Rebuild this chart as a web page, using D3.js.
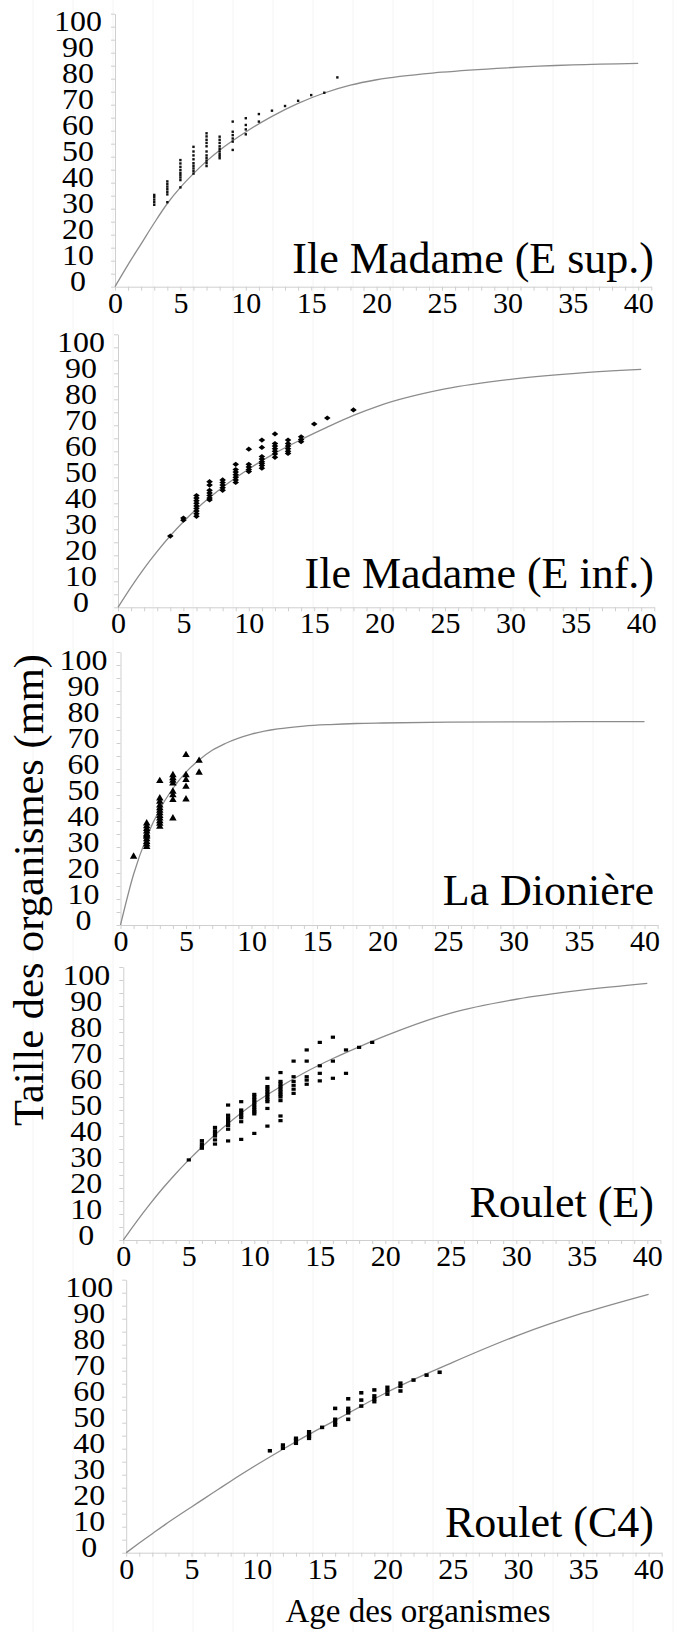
<!DOCTYPE html>
<html><head><meta charset="utf-8">
<script src="https://cdn.jsdelivr.net/npm/d3@7/dist/d3.min.js"></script>
<style>
html,body{margin:0;padding:0;background:#fff;}
svg{display:block;}
text{font-family:"Liberation Serif","Times New Roman",serif;fill:#000;}
</style></head><body>
<svg id="chart" width="678" height="1632"></svg>
<script>
// ---------- data ----------
const panelTitles = ["Ile Madame (E sup.)", "Ile Madame (E inf.)", "La Dionière", "Roulet (E)", "Roulet (C4)"];
const yAxisTitle = "Taille des organismes (mm)";
const xAxisTitle = "Age des organismes";
const yTickLabels = [0, 10, 20, 30, 40, 50, 60, 70, 80, 90, 100];
const xTickLabels = [0, 5, 10, 15, 20, 25, 30, 35, 40];

// fitted growth curves, read at these ages
const curveAges = [0, 1, 2, 3, 4, 5, 6, 7, 8, 10, 12, 14, 16, 18, 20, 25, 30, 35, 40];
const curveMadameSup = [0, 8.5, 16.5, 24.5, 32, 38.2, 43.5, 48.3, 52.5, 59.5, 65.5, 70.5, 74.5, 77.5, 79.6, 82.5, 84.2, 85.3, 85.9];
const curveMadameInf = [0, 7.8, 15, 21.5, 27.5, 32.9, 37.8, 42.2, 46.2, 53.2, 59.3, 64.5, 69.3, 73.8, 77.6, 84, 87.7, 90, 91.5];
const curveDioniere  = [0, 19.5, 33.8, 44.5, 52.5, 58.8, 63.5, 67.2, 69.8, 73.4, 75.4, 76.5, 77.1, 77.5, 77.7, 78, 78.1, 78.2, 78.2];
const curveRouletE   = [0, 7, 13.6, 19.8, 25.5, 30.8, 35.8, 40.5, 44.8, 52.6, 59, 64.8, 69.8, 74.3, 78.5, 87.3, 92.6, 96.1, 98.7];
const curveRouletC4  = [0, 3.7, 7.3, 10.9, 14.3, 17.6, 20.9, 24.2, 27.5, 33.8, 39.8, 45.5, 50.9, 56.4, 61.8, 73.2, 83.6, 92.2, 99.4];

// observations: ages and, for each age, the sizes measured
const madameSupAges = [3, 4, 5, 6, 7, 8, 9, 10, 11, 12, 13, 14, 15, 16, 17];
const madameSupSizes = [
  [31.5, 32.5, 33.5, 34.5, 35.3],
  [32.5, 35.5, 36.5, 37.5, 38.5, 39.5, 40.5],
  [38.2, 41, 42, 42.9, 43.8, 44.9, 46.1, 47.4, 48.7],
  [43.5, 44.5, 45.5, 46.5, 47.5, 49, 50.5, 52, 53.8],
  [46.4, 47.5, 48.5, 49.5, 50.5, 52, 54, 55.3, 56.5, 57.8, 59],
  [49.4, 50.2, 51, 52, 53, 54, 55.3, 56.5, 57.7],
  [52.6, 55.8, 57, 58.3, 59.6, 63.5],
  [58.6, 60.5, 62.2, 64.8],
  [63.5, 66.4],
  [67.7], [69.5], [71.5], [73.7], [74.6], [80.5]
];
const madameInfAges = [4, 5, 6, 7, 8, 9, 10, 11, 12, 13, 14, 15, 16, 18];
const madameInfSizes = [
  [27.4],
  [33.5, 34.3],
  [35, 36, 37, 38, 39, 40, 41, 42, 43],
  [41.3, 42, 43, 44, 45, 47, 48.3],
  [45, 46, 47, 48, 49],
  [48, 49, 50, 51, 52, 53, 55],
  [52.2, 53, 54, 55, 60.8],
  [53.5, 54.5, 55.3, 56, 57, 58, 61.5, 64.3],
  [57.7, 59, 60, 61, 62, 63, 66.7],
  [59.2, 60, 61, 62, 63, 64.3],
  [63.7, 64.5, 65.6],
  [70.5], [72.8], [75.9]
];
const dioniereAges = [1, 2, 3, 4, 5, 6];
const dioniereSizes = [
  [26.3],
  [30.1, 31, 32, 33, 34, 34.5, 35, 36, 37, 38, 39.1],
  [37.8, 39, 40, 41, 42, 43, 44, 45, 46, 47.5, 48.7, 55.4],
  [41, 48.1, 50, 51.3, 54.5, 55.5, 56.5, 57.7],
  [48.3, 53.2, 55.8, 57.7, 65.4],
  [58.6, 63.2]
];
const rouletEAges = [5, 6, 7, 8, 9, 10, 11, 12, 13, 14, 15, 16, 17, 18, 19];
const rouletESizes = [
  [30.8],
  [35.3, 36, 37, 38.2],
  [36.9, 38.5, 40, 41, 42, 43.3],
  [38.1, 42.6, 44, 45, 46, 47, 48, 51.9],
  [38.7, 45.5, 47, 48, 49, 50, 53.2],
  [41, 48.5, 49.3, 50, 51, 52, 53, 54, 55, 56],
  [43.8, 50.6, 53.2, 54, 55, 56, 57, 58, 59, 62.2],
  [45.9, 47.7, 53.6, 55, 56, 57, 58, 59, 60, 61, 64.4],
  [56.4, 58, 59.5, 61, 62.8, 68.8],
  [59.9, 61.5, 62.8, 68.8, 73.1],
  [61.2, 64.1, 67, 76],
  [62.2, 68.8, 78],
  [64.1, 73.1],
  [74.1],
  [76]
];
const rouletC4Ages = [11, 12, 13, 14, 15, 16, 17, 18, 19, 20, 21, 22, 23, 24];
const rouletC4Sizes = [
  [39.2],
  [40.2, 41.4],
  [42.1, 43.3, 44],
  [44, 44.8, 45.5, 46.5],
  [48.2],
  [49.1, 50.2, 51.3, 55.5],
  [51.3, 53.8, 54.6, 55.5, 59.2],
  [56.4, 58.7, 61.5],
  [58.1, 59.2, 60.3, 62.6],
  [61, 62.3, 63.6],
  [62.2, 64, 65.2],
  [66.4], [68.3], [69.4]
];

// ---------- layout ----------
const W = 678, H = 1632;
const axisColor = "#cfcfcf";
const panels = [
  {curve: curveMadameSup, ages: madameSupAges, sizes: madameSupSizes, marker: "dot",      x0: 115,   y0: 286.7,  unit: 13.08, titleY: 273},
  {curve: curveMadameInf, ages: madameInfAges, sizes: madameInfSizes, marker: "diamond",  x0: 118,   y0: 607.3,  unit: 13.08, titleY: 588},
  {curve: curveDioniere,  ages: dioniereAges,  sizes: dioniereSizes,  marker: "triangle", x0: 120.5, y0: 925,    unit: 13.1,  titleY: 905},
  {curve: curveRouletE,   ages: rouletEAges,   sizes: rouletESizes,   marker: "rect",     x0: 123.3, y0: 1240,   unit: 13.1,  titleY: 1217},
  {curve: curveRouletC4,  ages: rouletC4Ages,  sizes: rouletC4Sizes,  marker: "rect2",    x0: 126.2, y0: 1552.7, unit: 13.06, titleY: 1537}
];
const pxPerMm = 2.6;
const yLabelStretch = 1.1;

const svg = d3.select("#chart");
svg.append("rect").attr("width", W).attr("height", H).attr("fill", "#fff");

// faint background pattern of the scanned page
svg.append("g").selectAll("line").data(d3.range(33, W, 40)).join("line")
  .attr("x1", d => d).attr("x2", d => d).attr("y1", 0).attr("y2", H)
  .attr("stroke", "#f4f4f4").attr("stroke-width", 1);

panels.forEach((p, i) => {
  const x = d3.scaleLinear().domain([0, 41]).range([p.x0, p.x0 + 41 * p.unit]);
  const y = d3.scaleLinear().domain([0, 105]).range([p.y0, p.y0 - 105 * pxPerMm]);
  const g = svg.append("g");

  // y axis: line + minor ticks every 5
  const yMinor = g.append("g").attr("transform", `translate(${p.x0},0)`)
    .call(d3.axisLeft(y).tickValues(d3.range(0, 106, 5)).tickSize(4).tickSizeOuter(0).tickFormat(""));
  yMinor.select(".domain").attr("stroke", axisColor);
  yMinor.selectAll(".tick line").attr("stroke", axisColor);

  // y labels
  const yLab = g.append("g").attr("transform", `translate(${p.x0},0)`)
    .call(d3.axisLeft(y).tickValues(yTickLabels).tickSize(0).tickPadding(0));
  yLab.select(".domain").remove();
  yLab.selectAll(".tick text")
    .attr("x", -37 / yLabelStretch).attr("dy", 4).attr("text-anchor", "middle")
    .attr("transform", `scale(${yLabelStretch},1)`)
    .attr("font-size", 29).attr("font-family", "Liberation Serif").attr("fill", "#000");

  // x axis: line + ticks every year
  const xMinor = g.append("g").attr("transform", `translate(0,${p.y0})`)
    .call(d3.axisBottom(x).tickValues(d3.range(0, 42, 1)).tickSize(4).tickSizeOuter(0).tickFormat(""));
  xMinor.select(".domain").attr("stroke", axisColor);
  xMinor.selectAll(".tick line").attr("stroke", axisColor);

  const xLab = g.append("g").attr("transform", `translate(0,${p.y0})`)
    .call(d3.axisBottom(x).tickValues(xTickLabels).tickSize(0).tickPadding(0));
  xLab.select(".domain").remove();
  xLab.selectAll(".tick text")
    .attr("y", 26).attr("dy", 0).attr("text-anchor", "middle")
    .attr("font-size", 30).attr("font-family", "Liberation Serif").attr("fill", "#000");

  // growth curve
  const line = d3.line().x((d, k) => x(curveAges[k])).y(d => y(d)).curve(d3.curveMonotoneX);
  g.append("path").datum(p.curve).attr("d", line)
    .attr("fill", "none").attr("stroke", "#8c8c8c").attr("stroke-width", 1.3);

  // observations
  const pts = [];
  p.ages.forEach((a, k) => p.sizes[k].forEach(s => pts.push([a, s])));
  const pg = g.append("g");
  if (p.marker === "dot") {
    pg.selectAll("rect").data(pts).join("rect")
      .attr("x", d => x(d[0]) - 1.2).attr("y", d => y(d[1]) - 1.2)
      .attr("width", 2.4).attr("height", 2.4).attr("fill", "#111");
  } else if (p.marker === "diamond") {
    pg.selectAll("path").data(pts).join("path")
      .attr("d", d => { const cx = x(d[0]), cy = y(d[1]);
        return `M${cx - 3.3},${cy}L${cx},${cy - 2.6}L${cx + 3.3},${cy}L${cx},${cy + 2.6}Z`; })
      .attr("fill", "#000");
  } else if (p.marker === "triangle") {
    const tri = d3.symbol().type(d3.symbolTriangle).size(24);
    pg.selectAll("path").data(pts).join("path")
      .attr("transform", d => `translate(${x(d[0])},${y(d[1])})`)
      .attr("d", tri).attr("fill", "#000");
  } else {
    const w = 4.2, h = p.marker === "rect" ? 3.2 : 3.6;
    pg.selectAll("rect").data(pts).join("rect")
      .attr("x", d => x(d[0]) - w / 2).attr("y", d => y(d[1]) - h / 2)
      .attr("width", w).attr("height", h).attr("fill", "#000");
  }

  // panel title
  g.append("text").attr("x", 654).attr("y", p.titleY).attr("text-anchor", "end")
    .attr("font-size", 44).text(panelTitles[i]);
});

// axis titles
svg.append("text")
  .attr("transform", "translate(43,890) rotate(-90)")
  .attr("text-anchor", "middle").attr("font-size", 42.5).text(yAxisTitle);
svg.append("text").attr("x", 418).attr("y", 1622).attr("text-anchor", "middle")
  .attr("font-size", 33).text(xAxisTitle);
</script>
</body></html>
